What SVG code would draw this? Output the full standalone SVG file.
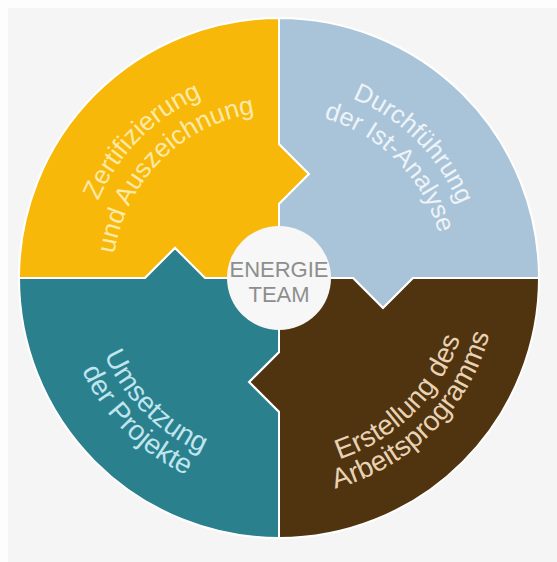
<svg xmlns="http://www.w3.org/2000/svg" width="557" height="562" viewBox="0 0 557 562">
<style>
.piece{stroke:#ffffff;stroke-width:2;stroke-linejoin:miter}
.lbl{font-family:"Liberation Sans",Arial,Helvetica,sans-serif;text-anchor:middle}
.y{fill:#fdeaa8;font-size:26px}
.b{fill:#eef3f8;font-size:25.5px}
.t{fill:#bfe5ee;font-size:28px}
.r{fill:#e8d2b4;font-size:28px}
.ctr{font-family:"Liberation Sans",Arial,Helvetica,sans-serif;font-size:22px;fill:#8e8e8e;text-anchor:middle}
</style>
<defs>
<path id="yo" d="M128.8,404.0 A196,196 0 0 1 405.0,127.8"/>
<path id="yi" d="M151.8,384.7 A166,166 0 0 1 385.7,150.8"/>
<path id="bo" d="M154.3,129.4 A194,194 0 0 1 427.6,402.7"/>
<path id="bi" d="M172.3,150.9 A166,166 0 0 1 406.2,384.7"/>
<path id="ti" d="M132.7,155.2 A191,191 0 0 0 401.8,424.3"/>
<path id="to" d="M112.0,137.9 A218,218 0 0 0 419.1,445.0"/>
<path id="ri" d="M156.2,424.3 A191,191 0 0 0 425.3,155.2"/>
<path id="ro" d="M138.9,445.0 A218,218 0 0 0 446.0,137.9"/>
</defs>
<rect x="0" y="0" width="557" height="562" fill="#fdfdfd"/>
<rect x="8" y="8" width="549" height="554" fill="#f5f5f5"/>
<g id="zertifizierung">
<path class="piece" fill="#f8b80a" d="M279,278 L205,278 L175,248 L145,278 L19,278 A260,260 0 0 1 279,18 L279,144 L309,174 L279,204 Z"/>
<text class="lbl y"><textPath href="#yo" startOffset="50%">Zertifizierung</textPath></text>
<text class="lbl y"><textPath href="#yi" startOffset="50%">und Auszeichnung</textPath></text>
</g>
<g id="durchfuehrung">
<path class="piece" fill="#a9c4d9" d="M279,278 L279,204 L309,174 L279,144 L279,18 A260,260 0 0 1 539,278 L413,278 L383,308 L353,278 Z"/>
<text class="lbl b"><textPath href="#bo" startOffset="50%">Durchführung</textPath></text>
<text class="lbl b"><textPath href="#bi" startOffset="50%">der Ist-Analyse</textPath></text>
</g>
<g id="erstellung">
<path class="piece" fill="#50330f" d="M279,278 L353,278 L383,308 L413,278 L539,278 A260,260 0 0 1 279,538 L279,412 L249,382 L279,352 Z"/>
<text class="lbl r"><textPath href="#ri" startOffset="50%">Erstellung des</textPath></text>
<text class="lbl r"><textPath href="#ro" startOffset="50%">Arbeitsprogramms</textPath></text>
</g>
<g id="umsetzung">
<path class="piece" fill="#2b808d" d="M279,278 L279,352 L249,382 L279,412 L279,538 A260,260 0 0 1 19,278 L145,278 L175,248 L205,278 Z"/>
<text class="lbl t"><textPath href="#ti" startOffset="50%">Umsetzung</textPath></text>
<text class="lbl t"><textPath href="#to" startOffset="50%">der Projekte</textPath></text>
</g>
<g id="energieteam">
<circle cx="279" cy="278" r="52" fill="#f7f7f7"/>
<text class="ctr" x="279" y="277">ENERGIE</text>
<text class="ctr" x="279" y="302">TEAM</text>
</g>
<g id="connectors"/>
</svg>
